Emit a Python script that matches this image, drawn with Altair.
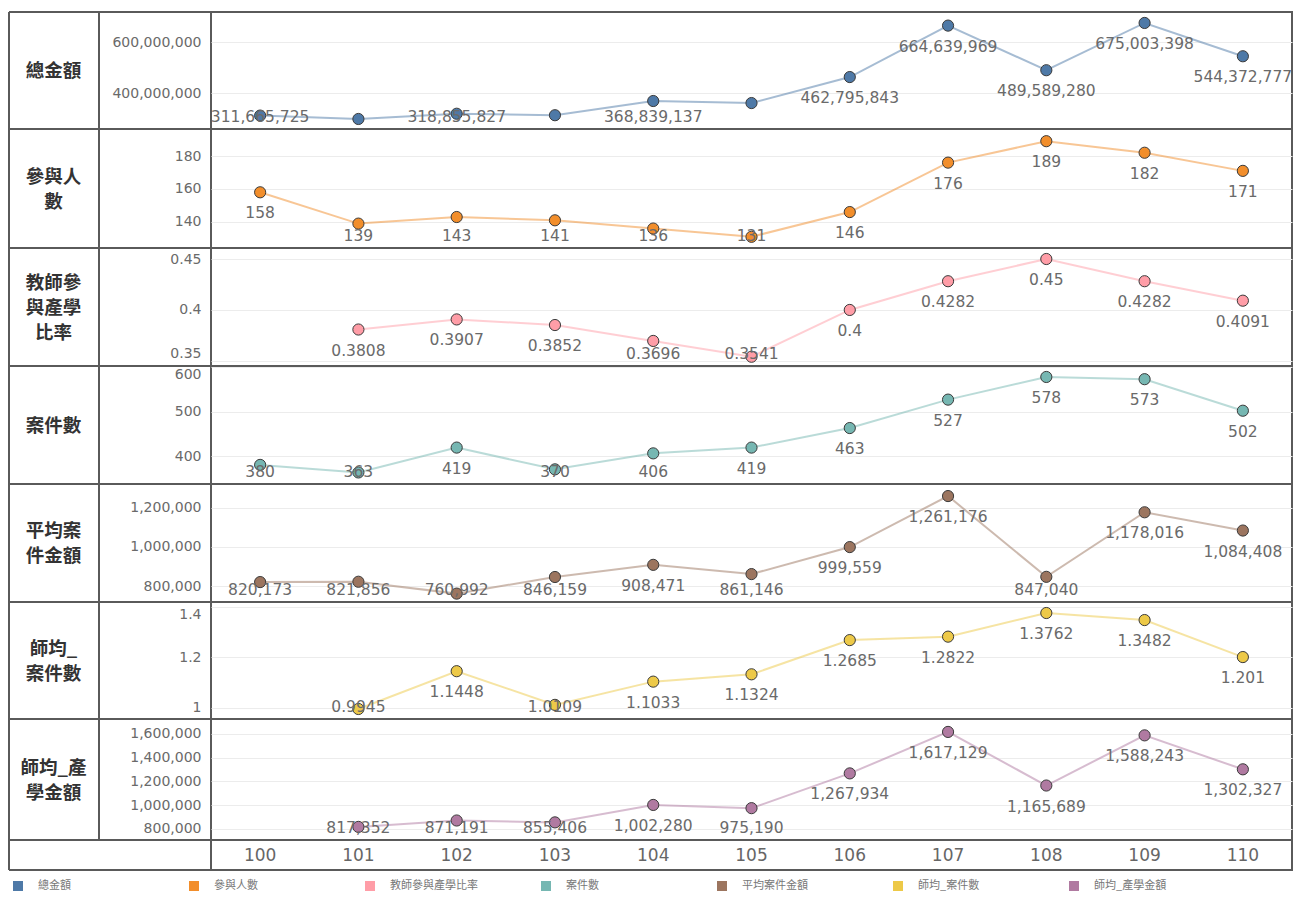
import altair as alt
import pandas as pd

# ---------------- data ----------------
years = ["100", "101", "102", "103", "104", "105", "106", "107", "108", "109", "110"]

row_names = ["總金額", "參與人數", "教師參與產學比率", "案件數", "平均案件金額", "師均_案件數", "師均_產學金額"]
header_lines = [["總金額"], ["參與人", "數"], ["教師參", "與產學", "比率"], ["案件數"],
                ["平均案", "件金額"], ["師均_", "案件數"], ["師均_產", "學金額"]]
colors = ["#4e79a7", "#f28e2b", "#ff9da7", "#76b7b2", "#9c755f", "#edc948", "#b07aa1"]

total_amount = [311665725, 298333728, 318855827, 313078830, 368839137, 360820174,
                462795843, 664639969, 489589280, 675003398, 544372777]
participants = [158, 139, 143, 141, 136, 131, 146, 176, 189, 182, 171]
teacher_rate = [None, 0.3808, 0.3907, 0.3852, 0.3696, 0.3541, 0.4, 0.4282, 0.45, 0.4282, 0.4091]
case_count = [380, 363, 419, 370, 406, 419, 463, 527, 578, 573, 502]
avg_case_amount = [820173, 821856, 760992, 846159, 908471, 861146, 999559,
                   1261176, 847040, 1178016, 1084408]
cases_per_teacher = [None, 0.9945, 1.1448, 1.0109, 1.1033, 1.1324, 1.2685,
                     1.2822, 1.3762, 1.3482, 1.201]
amount_per_teacher = [None, 817352, 871191, 855406, 1002280, 975190, 1267934,
                      1617129, 1165689, 1588243, 1302327]

# which labels are visible (Tableau hid some of the 總金額 labels)
total_label_shown = [1, 0, 1, 0, 1, 0, 1, 1, 1, 1, 1]

series = [total_amount, participants, teacher_rate, case_count,
          avg_case_amount, cases_per_teacher, amount_per_teacher]
shown = [total_label_shown] + [[1] * len(years)] * 6

domains = [(259e6, 718e6), (124.2, 196.4), (0.345, 0.4608), (337, 602.7),
           (718e3, 1323e3), (0.9547, 1.42), (707e3, 1726e3)]
tick_values = [[4e8, 6e8], [140, 160, 180], [0.35, 0.4, 0.45], [400, 500, 600],
               [8e5, 1e6, 1.2e6], [1, 1.2, 1.4], [8e5, 1e6, 1.2e6, 1.4e6, 1.6e6]]
tick_formats = [",d", "d", ".2~f", "d", ",d", ".1~f", ",d"]
heights = [117, 119, 118, 118, 118, 117, 121]

# ---------------- style ----------------
W = 1081
FRAME = "#5a5a5a"
NUM_FONT = "DejaVu Sans"
CJK_FONT = "Noto Sans CJK TC"
LEFT = -202   # outer frame, relative to plot area
MID = -112    # separator between header and axis column
LH = 25       # header line height


def fmt(v):
    if isinstance(v, int):
        return f"{v:,}"
    s = f"{v:.4f}".rstrip("0").rstrip(".")
    return s


frame_df = pd.DataFrame({"k": [0]})


def frame_layers(H, top=False, mid=True):
    fc = alt.Chart(frame_df)
    out = [
        fc.mark_rule(color=FRAME, strokeWidth=2).encode(
            x=alt.value(LEFT), y=alt.value(0), y2=alt.value(H)),
        fc.mark_rule(color=FRAME, strokeWidth=2).encode(
            x=alt.value(LEFT), x2=alt.value(0), y=alt.value(H)),
    ]
    if mid:
        out.append(fc.mark_rule(color=FRAME, strokeWidth=2).encode(
            x=alt.value(MID), y=alt.value(0), y2=alt.value(H)))
    if top:
        out.append(fc.mark_rule(color=FRAME, strokeWidth=2).encode(
            x=alt.value(LEFT), x2=alt.value(0), y=alt.value(0)))
    return out


x_enc = alt.X("year:O", sort=years, scale=alt.Scale(domain=years), axis=None)

rows = []
for i, name in enumerate(row_names):
    vals = series[i]
    df = pd.DataFrame({
        "year": years,
        "value": vals,
        "label": [fmt(v) if (v is not None and shown[i][j]) else "" for j, v in enumerate(vals)],
    }).dropna(subset=["value"])
    lo, hi = domains[i]
    H = heights[i]
    nlines = len(header_lines[i])
    ysc = alt.Scale(domain=[lo, hi], zero=False, nice=False)
    yax = alt.Axis(values=tick_values[i], format=tick_formats[i],
                   title=header_lines[i], titleAngle=0, titleX=-158,
                   titleY=H / 2 - (nlines - 1) * LH / 2,
                   titleAlign="center", titleBaseline="middle", titleFont=CJK_FONT,
                   titleFontSize=18.5, titleFontWeight="bold", titleColor="#333333",
                   titleLineHeight=LH,
                   labelFont=NUM_FONT, labelFontSize=14, labelColor="#6a6a6a",
                   labelPadding=10, ticks=False, domain=False, grid=True,
                   gridColor="#ececec", gridWidth=1, labelFlush=8)
    base = alt.Chart(df)
    line = base.mark_line(color=colors[i], opacity=0.5, strokeWidth=2).encode(
        x=x_enc, y=alt.Y("value:Q", scale=ysc, axis=yax))
    pts = base.mark_circle(size=125, color=colors[i], opacity=1,
                           stroke="#3a3a3a", strokeWidth=1).encode(
        x=x_enc, y=alt.Y("value:Q", scale=ysc, axis=yax))
    off = 21 * (hi - lo) / H
    floor = lo + 12 * (hi - lo) / H
    txt = base.transform_calculate(
        ly=f"max(datum.value - {off}, {floor})"
    ).mark_text(font=NUM_FONT, fontSize=15.5, color="#6a6a6a", baseline="middle").encode(
        x=x_enc, y=alt.Y("ly:Q", scale=ysc, axis=yax), text="label:N")
    layers = [line, pts, txt] + frame_layers(H, top=(i == 0))
    rows.append(alt.layer(*layers).properties(width=W, height=H))

# x-axis row
xdf = pd.DataFrame({"year": years})
xrow = alt.layer(
    alt.Chart(xdf).mark_text(font=NUM_FONT, fontSize=17, color="#666666",
                             baseline="middle").encode(
        x=x_enc, y=alt.value(16), text="year:N"),
    *frame_layers(30, mid=False)
).properties(width=W, height=30)

# legend row
ldf = pd.DataFrame({"name": row_names})
lx = alt.X("name:N", sort=row_names,
           scale=alt.Scale(type="point", domain=row_names,
                           range=[LEFT, LEFT + 6 * 176], padding=0),
           axis=None)
lcol = alt.Color("name:N", scale=alt.Scale(domain=row_names, range=colors), legend=None)
legend_row = alt.layer(
    alt.Chart(ldf).mark_square(size=100, opacity=1, xOffset=9).encode(
        x=lx, y=alt.value(16), color=lcol),
    alt.Chart(ldf).mark_text(font=CJK_FONT, fontSize=11, color="#777777",
                             align="left", baseline="middle", dx=29).encode(
        x=lx, y=alt.value(16), text="name:N"),
).properties(width=W, height=30, view=alt.ViewBackground(strokeOpacity=0))

chart = alt.vconcat(*rows, xrow, legend_row, spacing=0, bounds="flush").properties(
    padding={"left": 7, "top": 10, "right": 5, "bottom": 0},
    background="white",
).configure_view(stroke=FRAME, strokeWidth=2)

chart.save("out.html", embed_options={"renderer": "svg", "actions": False})
